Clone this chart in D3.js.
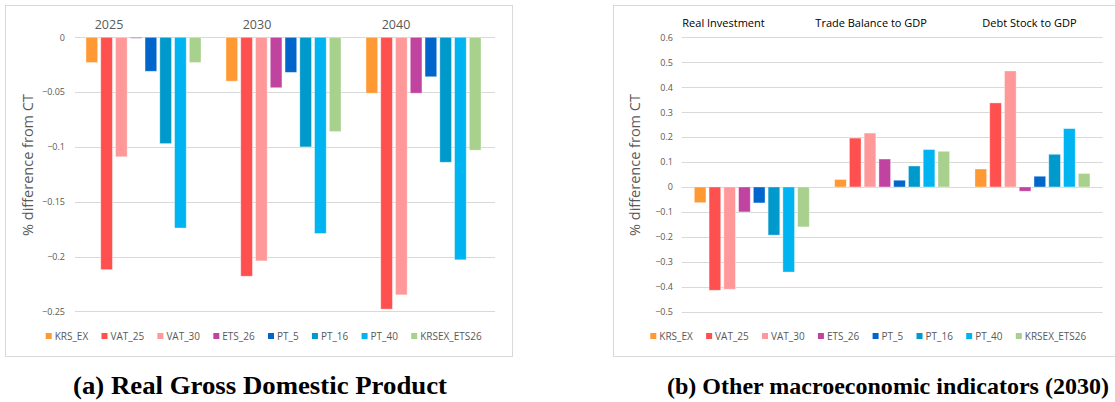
<!DOCTYPE html>
<html>
<head>
<meta charset="utf-8">
<script src="https://cdn.jsdelivr.net/npm/d3@7"></script>
<style>
  html, body { margin: 0; padding: 0; background: #fff; }
  svg { display: block; }
</style>
</head>
<body>
<svg id="chart" width="1115" height="402"></svg>
<script>
// ---------- DATA ----------
const series = ["KRS_EX", "VAT_25", "VAT_30", "ETS_26", "PT_5", "PT_16", "PT_40", "KRSEX_ETS26"];
const colors = ["#FF9933", "#FF5050", "#FF9999", "#C0439F", "#0066CC", "#0099CC", "#00B4F2", "#A9D18E"];

// (a) Real GDP, % difference from CT
const gdpYears = ["2025", "2030", "2040"];
const gdp2025 = [-0.023, -0.212, -0.109, -0.0008, -0.031, -0.097, -0.174, -0.023];
const gdp2030 = [-0.040, -0.218, -0.204, -0.046, -0.032, -0.100, -0.179, -0.086];
const gdp2040 = [-0.051, -0.248, -0.235, -0.051, -0.036, -0.114, -0.203, -0.103];
const gdpTicks = [0, -0.05, -0.1, -0.15, -0.2, -0.25];

// (b) Other macro indicators (2030)
const macroCats = ["Real Investment", "Trade Balance to GDP", "Debt Stock to GDP"];
const realInvestment = [-0.063, -0.414, -0.410, -0.100, -0.064, -0.193, -0.341, -0.160];
const tradeBalance   = [0.030, 0.196, 0.216, 0.112, 0.027, 0.084, 0.150, 0.143];
const debtStock      = [0.072, 0.337, 0.465, -0.017, 0.043, 0.131, 0.234, 0.054];
const macroTicks = [0.6, 0.5, 0.4, 0.3, 0.2, 0.1, 0, -0.1, -0.2, -0.3, -0.4, -0.5];

const yTitle = "% difference from CT";
const captionA = "(a) Real Gross Domestic Product";
const captionB = "(b) Other macroeconomic indicators (2030)";

// ---------- LAYOUT ----------
const svg = d3.select("#chart");
const FONT = "'Open Sans', 'DejaVu Sans', sans-serif";
const GRID = "#D9D9D9";
const TXT = "#595959";

function panel(opts) {
  const g = svg.append("g");
  g.append("rect").attr("x", opts.box[0] + 0.5).attr("y", opts.box[1] + 0.5)
    .attr("width", opts.box[2]).attr("height", opts.box[3])
    .attr("fill", "#fff").attr("stroke", GRID).attr("stroke-width", 1);

  const x = d3.scaleBand().domain(opts.cats).range(opts.xRange);
  const xs = d3.scaleBand().domain(series).range(opts.groupRange).paddingInner(0.21);
  const y = d3.scaleLinear().domain(opts.yDomain).range(opts.yRange);

  g.append("g").selectAll("line").data(opts.ticks).join("line")
    .attr("x1", opts.xRange[0]).attr("x2", opts.xRange[1])
    .attr("y1", d => Math.round(y(d)) + 0.5).attr("y2", d => Math.round(y(d)) + 0.5)
    .attr("stroke", GRID).attr("stroke-width", 1);

  const ax = d3.axisLeft(y).tickValues(opts.ticks).tickSize(0).tickPadding(0)
    .tickFormat(d => d3.format("")(+d.toFixed(2)));
  const axg = g.append("g").attr("transform", `translate(${opts.tickX},0)`).call(ax);
  axg.select(".domain").remove();
  axg.selectAll("text").attr("font-family", FONT).attr("font-size", 9).attr("fill", TXT);

  g.append("text").attr("transform", `translate(${opts.titleX},${opts.titleY}) rotate(-90)`)
    .attr("text-anchor", "middle").attr("font-family", FONT).attr("font-size", 14.5)
    .attr("fill", TXT).text(yTitle);

  opts.cats.forEach((c, ci) => {
    const vals = opts.values[ci];
    g.append("g").selectAll("rect").data(vals).join("rect")
      .attr("x", (d, i) => x(c) + xs(series[i]))
      .attr("width", xs.bandwidth())
      .attr("y", d => Math.min(y(d), y(0)))
      .attr("height", d => Math.max(1, Math.abs(y(d) - y(0))))
      .attr("fill", (d, i) => colors[i])
      .attr("stroke", "#fff").attr("stroke-opacity", 0.45).attr("stroke-width", 0.8);
  });

  g.append("g").selectAll("text").data(opts.cats).join("text")
    .attr("x", (d, i) => x(d) + opts.labelOffsets[i])
    .attr("y", opts.labelY)
    .attr("text-anchor", opts.labelAnchor)
    .attr("font-family", FONT).attr("font-size", opts.labelSize)
    .attr("fill", opts.labelColor).text(d => d);

  const lg = g.append("g").attr("transform", `translate(${opts.legendX},${opts.legendY})`);
  let cx = 0;
  series.forEach((s, i) => {
    lg.append("rect").attr("x", cx).attr("y", -3).attr("width", 6).attr("height", 6).attr("fill", colors[i]);
    const t = lg.append("text").attr("x", cx + 9).attr("y", 3.6)
      .attr("font-family", FONT).attr("font-size", 10).attr("fill", TXT).text(s);
    cx += 9 + t.node().getComputedTextLength() + 13.3;
  });

  svg.append("text").attr("x", opts.captionX).attr("y", 394).attr("text-anchor", "middle")
    .attr("font-family", "'Liberation Serif', 'Times New Roman', serif").attr("font-weight", "bold")
    .attr("font-size", opts.captionSize).attr("fill", "#000")
    .attr("textLength", opts.captionLen).attr("lengthAdjust", "spacingAndGlyphs")
    .text(opts.caption);
}

panel({
  box: [5, 5, 507, 351],
  cats: gdpYears,
  values: [gdp2025, gdp2030, gdp2040],
  xRange: [75, 495],
  groupRange: [11, 126],
  yDomain: [0, -0.25],
  yRange: [37.3, 311.3],
  ticks: gdpTicks,
  tickX: 65,
  titleX: 33, titleY: 165,
  labelOffsets: [34, 42, 41],
  labelAnchor: "middle",
  labelY: 28.5, labelSize: 12.5, labelColor: TXT,
  legendX: 45.7, legendY: 336,
  caption: captionA, captionX: 260, captionLen: 374, captionSize: 25
});

panel({
  box: [613, 5, 520, 351],
  cats: macroCats,
  values: [realInvestment, tradeBalance, debtStock],
  xRange: [681.7, 1102.7],
  groupRange: [12.6, 127.6],
  yDomain: [0.6, -0.5],
  yRange: [37.3, 311.7],
  ticks: macroTicks,
  tickX: 673,
  titleX: 640, titleY: 165,
  labelOffsets: [0.6, -6.7, 20],
  labelAnchor: "start",
  labelY: 26.5, labelSize: 11, labelColor: "#000",
  legendX: 650.3, legendY: 336,
  caption: captionB, captionX: 888, captionLen: 442, captionSize: 23.5
});
</script>
</body>
</html>
